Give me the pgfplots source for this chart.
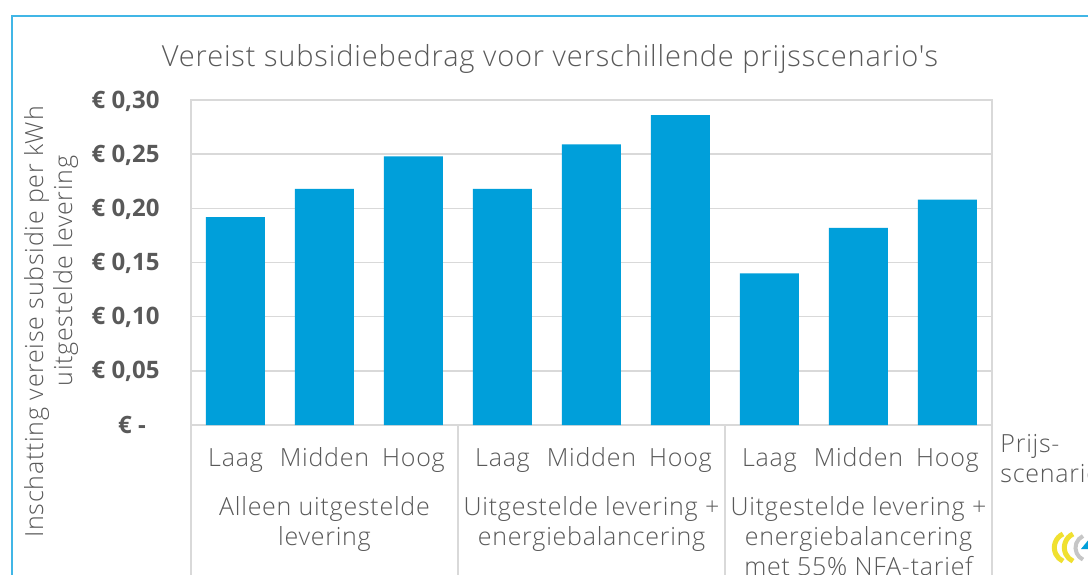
\documentclass[border=0pt]{standalone}
\usepackage{fontspec}
\setmainfont{Open Sans}
\newfontfamily\lightfont{Open Sans Light}[LetterSpace=3]
\usepackage{pgfplots}
\pgfplotsset{compat=1.18}
\newlength\px \setlength\px{0.5pt}
\definecolor{barblue}{HTML}{009FDA}
\definecolor{txt}{HTML}{595959}
\definecolor{gridc}{HTML}{D9D9D9}
\definecolor{framec}{HTML}{41B6E6}
\definecolor{logoy}{HTML}{F0E030}
\begin{document}
\begin{tikzpicture}[x=\px,y=\px]
\useasboundingbox (0,0) rectangle (1088,574);
\clip (0,0) rectangle (1088,574);
\fill[white] (0,0) rectangle (1088,574);
\draw[framec, line width=2\px] (12,-20) -- (12,558) -- (1100,558);
\node[txt, inner sep=0pt, anchor=base, font=\lightfont\fontsize{29\px}{34\px}\selectfont] at (550,507) {Vereist subsidiebedrag voor verschillende prijsscenario's};
\begin{axis}[
  at={(191\px,149\px)}, anchor=south west,
  width=801\px, height=325\px, scale only axis,
  xmin=-0.5, xmax=8.5, ymin=0, ymax=0.30,
  ybar, bar width=59\px,
  axis line style={gridc, line width=1.5\px},
  ymajorgrids, grid style={gridc, line width=1.5\px},
  major tick length=0pt, tick style={draw=none},
  ytick={0,0.05,0.1,0.15,0.2,0.25,0.3},
  yticklabels={{€ -\phantom{0}},{€ 0,05},{€ 0,10},{€ 0,15},{€ 0,20},{€ 0,25},{€ 0,30}},
  yticklabel style={font=\bfseries\fontsize{24\px}{27\px}\selectfont, txt, inner sep=0pt, anchor=base east, xshift=-31\px, yshift=-8\px},
  xtick={0,...,8},
  xticklabels={Laag,Midden,Hoog,Laag,Midden,Hoog,Laag,Midden,Hoog},
  xticklabel style={font=\lightfont\fontsize{25\px}{30\px}\selectfont, txt, inner sep=0pt, anchor=base, yshift=-41\px},
  clip=false,
]
\addplot[fill=barblue, draw=none] coordinates {
  (0,0.192) (1,0.218) (2,0.248) (3,0.218) (4,0.259) (5,0.286) (6,0.140) (7,0.182) (8,0.208)};
\draw[gridc, line width=1.5\px] (axis cs:-0.5,0) -- ([yshift=-200\px]axis cs:-0.5,0);
\draw[gridc, line width=1.5\px] (axis cs:2.5,0) -- ([yshift=-200\px]axis cs:2.5,0);
\draw[gridc, line width=1.5\px] (axis cs:5.5,0) -- ([yshift=-200\px]axis cs:5.5,0);
\draw[gridc, line width=1.5\px] (axis cs:8.5,0) -- ([yshift=-200\px]axis cs:8.5,0);
\node[txt, align=center, anchor=north, inner sep=0pt, font=\lightfont\fontsize{25\px}{30\px}\selectfont] at ([yshift=-71\px]axis cs:1,0) {Alleen uitgestelde\\levering};
\node[txt, align=center, anchor=north, inner sep=0pt, font=\lightfont\fontsize{25\px}{30\px}\selectfont] at ([yshift=-71\px]axis cs:4,0) {Uitgestelde levering +\\energiebalancering};
\node[txt, align=center, anchor=north, inner sep=0pt, font=\lightfont\fontsize{25\px}{30\px}\selectfont] at ([yshift=-71\px]axis cs:7,0) {Uitgestelde levering +\\energiebalancering\\met 55\% NFA-tarief};
\end{axis}
\node[txt, rotate=90, anchor=base, inner sep=0pt, font=\lightfont\fontsize{25\px}{30\px}\selectfont] at (43,252) {Inschatting vereise subsidie per kWh};
\node[txt, rotate=90, anchor=base, inner sep=0pt, font=\lightfont\fontsize{25\px}{30\px}\selectfont] at (72,303) {uitgestelde levering};
\node[txt, align=left, anchor=north west, inner sep=0pt, font=\lightfont\fontsize{25\px}{30\px}\selectfont] at (1000,140) {Prijs-\\scenario's};
% logo
\draw[logoy, line width=5\px] (1063,40) arc[start angle=115, end angle=245, radius=15];
\draw[logoy, line width=5\px] (1073,40) arc[start angle=115, end angle=245, radius=15];
\draw[gray!45, line width=4\px] (1083,38) arc[start angle=115, end angle=245, radius=13];
\fill[barblue] (1081,25) -- (1090,36) -- (1090,25) -- cycle;
\end{tikzpicture}
\end{document}
